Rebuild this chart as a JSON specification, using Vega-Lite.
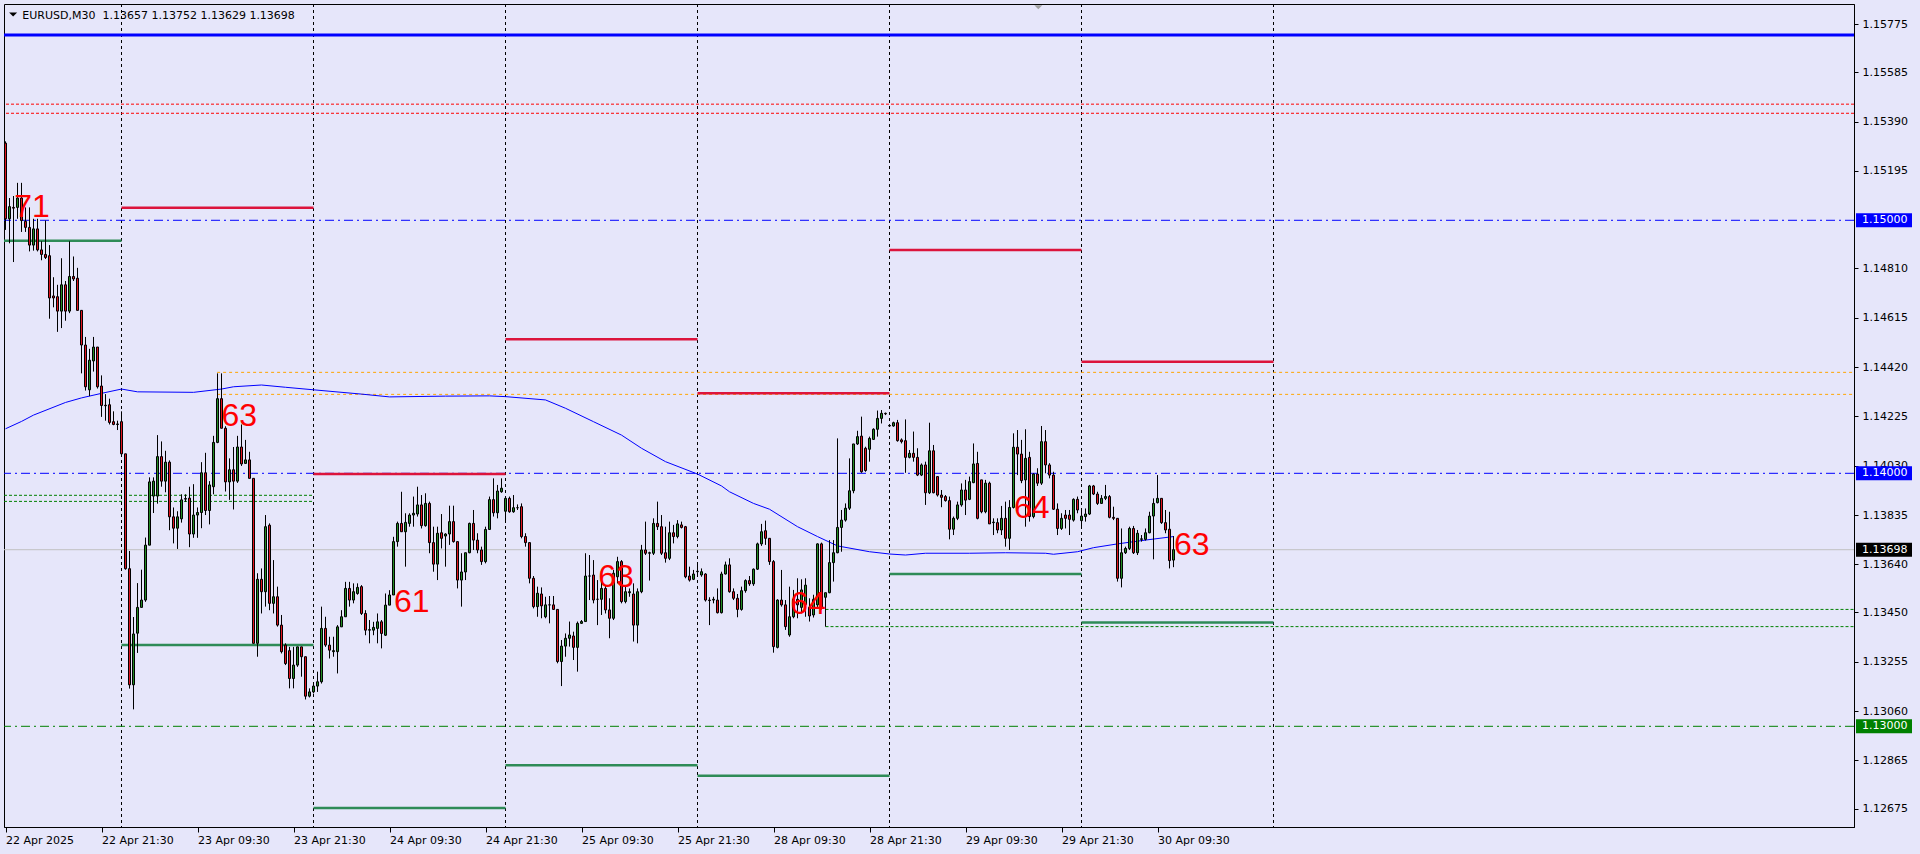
{
  "$schema": "https://vega.github.io/schema/vega-lite/v6.json",
  "width": 1850,
  "height": 823,
  "autosize": {"type": "none"},
  "padding": {"left": 4, "top": 4, "right": 66, "bottom": 27},
  "background": "#E6E6FA",
  "config": {
    "view": {"stroke": "#000000", "strokeWidth": 1, "fill": "#E6E6FA"},
    "axis": {"labelFont": "DejaVu Sans", "labelFontSize": 11, "labelColor": "#000000", "domainColor": "#000000", "tickColor": "#000000", "grid": false, "title": null}
  },
  "datasets": {
    "candles": [
      {"i":0,"o":1.15305,"h":1.15312,"l":1.14962,"c":1.15006},
      {"i":1,"o":1.15006,"h":1.15088,"l":1.14909,"c":1.15054},
      {"i":2,"o":1.15051,"h":1.15096,"l":1.14835,"c":1.15048},
      {"i":3,"o":1.15051,"h":1.15148,"l":1.15006,"c":1.15088},
      {"i":4,"o":1.15088,"h":1.15148,"l":1.14954,"c":1.14999},
      {"i":5,"o":1.14996,"h":1.15051,"l":1.14954,"c":1.14972},
      {"i":6,"o":1.14972,"h":1.15051,"l":1.14877,"c":1.14902},
      {"i":7,"o":1.14902,"h":1.15006,"l":1.14880,"c":1.14966},
      {"i":8,"o":1.14966,"h":1.15006,"l":1.14877,"c":1.14883},
      {"i":9,"o":1.14883,"h":1.14917,"l":1.14842,"c":1.14865},
      {"i":10,"o":1.14865,"h":1.14999,"l":1.14847,"c":1.14853},
      {"i":11,"o":1.14860,"h":1.14902,"l":1.14611,"c":1.14693},
      {"i":12,"o":1.14701,"h":1.14775,"l":1.14656,"c":1.14693},
      {"i":13,"o":1.14698,"h":1.14745,"l":1.14559,"c":1.14641},
      {"i":14,"o":1.14641,"h":1.14850,"l":1.14574,"c":1.14745},
      {"i":15,"o":1.14745,"h":1.14760,"l":1.14603,"c":1.14641},
      {"i":16,"o":1.14641,"h":1.14917,"l":1.14633,"c":1.14778},
      {"i":17,"o":1.14778,"h":1.14857,"l":1.14760,"c":1.14768},
      {"i":18,"o":1.14771,"h":1.14812,"l":1.14644,"c":1.14644},
      {"i":19,"o":1.14644,"h":1.14644,"l":1.14395,"c":1.14507},
      {"i":20,"o":1.14507,"h":1.14539,"l":1.14327,"c":1.14342},
      {"i":21,"o":1.14330,"h":1.14492,"l":1.14305,"c":1.14447},
      {"i":22,"o":1.14444,"h":1.14539,"l":1.14402,"c":1.14499},
      {"i":23,"o":1.14499,"h":1.14499,"l":1.14335,"c":1.14342},
      {"i":24,"o":1.14345,"h":1.14387,"l":1.14223,"c":1.14268},
      {"i":25,"o":1.14269,"h":1.14313,"l":1.14208,"c":1.14267},
      {"i":26,"o":1.14271,"h":1.14295,"l":1.14193,"c":1.14201},
      {"i":27,"o":1.14204,"h":1.14245,"l":1.14190,"c":1.14193},
      {"i":28,"o":1.14193,"h":1.14208,"l":1.14171,"c":1.14195},
      {"i":29,"o":1.14204,"h":1.14245,"l":1.14074,"c":1.14077},
      {"i":30,"o":1.14077,"h":1.14077,"l":1.13619,"c":1.13623},
      {"i":31,"o":1.13623,"h":1.13693,"l":1.13149,"c":1.13164},
      {"i":32,"o":1.13164,"h":1.13432,"l":1.13067,"c":1.13365},
      {"i":33,"o":1.13368,"h":1.13566,"l":1.13290,"c":1.13470},
      {"i":34,"o":1.13470,"h":1.13619,"l":1.13470,"c":1.13499},
      {"i":35,"o":1.13499,"h":1.13746,"l":1.13492,"c":1.13716},
      {"i":36,"o":1.13716,"h":1.13984,"l":1.13716,"c":1.13966},
      {"i":37,"o":1.13910,"h":1.13984,"l":1.13843,"c":1.13969},
      {"i":38,"o":1.13910,"h":1.14151,"l":1.13880,"c":1.14066},
      {"i":39,"o":1.14066,"h":1.14126,"l":1.13947,"c":1.13969},
      {"i":40,"o":1.13969,"h":1.14089,"l":1.13925,"c":1.14044},
      {"i":41,"o":1.14044,"h":1.14051,"l":1.13775,"c":1.13828},
      {"i":42,"o":1.13828,"h":1.13865,"l":1.13723,"c":1.13783},
      {"i":43,"o":1.13783,"h":1.13850,"l":1.13701,"c":1.13828},
      {"i":44,"o":1.13820,"h":1.13917,"l":1.13805,"c":1.13895},
      {"i":45,"o":1.13898,"h":1.13917,"l":1.13887,"c":1.13900},
      {"i":46,"o":1.13902,"h":1.13947,"l":1.13708,"c":1.13760},
      {"i":47,"o":1.13760,"h":1.13957,"l":1.13745,"c":1.13835},
      {"i":48,"o":1.13835,"h":1.13865,"l":1.13745,"c":1.13845},
      {"i":49,"o":1.13845,"h":1.14044,"l":1.13783,"c":1.14002},
      {"i":50,"o":1.14002,"h":1.14081,"l":1.13835,"c":1.13853},
      {"i":51,"o":1.13853,"h":1.13969,"l":1.13798,"c":1.13954},
      {"i":52,"o":1.13947,"h":1.14148,"l":1.13917,"c":1.14122},
      {"i":53,"o":1.14122,"h":1.14395,"l":1.14119,"c":1.14295},
      {"i":54,"o":1.14295,"h":1.14395,"l":1.14178,"c":1.14178},
      {"i":55,"o":1.14178,"h":1.14186,"l":1.13928,"c":1.13966},
      {"i":56,"o":1.13966,"h":1.14059,"l":1.13895,"c":1.14014},
      {"i":57,"o":1.14014,"h":1.14104,"l":1.13857,"c":1.13969},
      {"i":58,"o":1.13969,"h":1.14148,"l":1.13962,"c":1.14104},
      {"i":59,"o":1.14104,"h":1.14193,"l":1.14029,"c":1.14037},
      {"i":60,"o":1.14039,"h":1.14132,"l":1.14039,"c":1.14053},
      {"i":61,"o":1.14053,"h":1.14085,"l":1.13980,"c":1.13980},
      {"i":62,"o":1.13980,"h":1.13980,"l":1.13328,"c":1.13328},
      {"i":63,"o":1.13328,"h":1.13605,"l":1.13275,"c":1.13581},
      {"i":64,"o":1.13581,"h":1.13624,"l":1.13446,"c":1.13532},
      {"i":65,"o":1.13532,"h":1.13835,"l":1.13473,"c":1.13789},
      {"i":66,"o":1.13795,"h":1.13802,"l":1.13459,"c":1.13486},
      {"i":67,"o":1.13486,"h":1.13657,"l":1.13446,"c":1.13512},
      {"i":68,"o":1.13512,"h":1.13552,"l":1.13394,"c":1.13400},
      {"i":69,"o":1.13400,"h":1.13440,"l":1.13288,"c":1.13295},
      {"i":70,"o":1.13321,"h":1.13328,"l":1.13242,"c":1.13248},
      {"i":71,"o":1.13299,"h":1.13314,"l":1.13150,"c":1.13189},
      {"i":72,"o":1.13189,"h":1.13314,"l":1.13150,"c":1.13242},
      {"i":73,"o":1.13242,"h":1.13314,"l":1.13235,"c":1.13314},
      {"i":74,"o":1.13314,"h":1.13314,"l":1.13196,"c":1.13275},
      {"i":75,"o":1.13275,"h":1.13275,"l":1.13106,"c":1.13119},
      {"i":76,"o":1.13119,"h":1.13150,"l":1.13114,"c":1.13136},
      {"i":77,"o":1.13136,"h":1.13172,"l":1.13130,"c":1.13159},
      {"i":78,"o":1.13159,"h":1.13216,"l":1.13136,"c":1.13176},
      {"i":79,"o":1.13176,"h":1.13473,"l":1.13169,"c":1.13387},
      {"i":80,"o":1.13387,"h":1.13433,"l":1.13314,"c":1.13321},
      {"i":81,"o":1.13321,"h":1.13354,"l":1.13268,"c":1.13301},
      {"i":82,"o":1.13295,"h":1.13354,"l":1.13275,"c":1.13299},
      {"i":83,"o":1.13295,"h":1.13400,"l":1.13209,"c":1.13393},
      {"i":84,"o":1.13393,"h":1.13459,"l":1.13393,"c":1.13433},
      {"i":85,"o":1.13433,"h":1.13571,"l":1.13433,"c":1.13545},
      {"i":86,"o":1.13545,"h":1.13571,"l":1.13473,"c":1.13499},
      {"i":87,"o":1.13499,"h":1.13565,"l":1.13486,"c":1.13532},
      {"i":88,"o":1.13525,"h":1.13565,"l":1.13520,"c":1.13549},
      {"i":89,"o":1.13552,"h":1.13558,"l":1.13440,"c":1.13446},
      {"i":90,"o":1.13446,"h":1.13459,"l":1.13360,"c":1.13380},
      {"i":91,"o":1.13380,"h":1.13420,"l":1.13328,"c":1.13382},
      {"i":92,"o":1.13380,"h":1.13413,"l":1.13360,"c":1.13391},
      {"i":93,"o":1.13387,"h":1.13446,"l":1.13328,"c":1.13413},
      {"i":94,"o":1.13413,"h":1.13420,"l":1.13308,"c":1.13367},
      {"i":95,"o":1.13360,"h":1.13525,"l":1.13357,"c":1.13479},
      {"i":96,"o":1.13479,"h":1.13538,"l":1.13479,"c":1.13519},
      {"i":97,"o":1.13519,"h":1.13749,"l":1.13519,"c":1.13730},
      {"i":98,"o":1.13730,"h":1.13809,"l":1.13710,"c":1.13802},
      {"i":99,"o":1.13802,"h":1.13927,"l":1.13769,"c":1.13769},
      {"i":100,"o":1.13769,"h":1.13842,"l":1.13631,"c":1.13806},
      {"i":101,"o":1.13802,"h":1.13842,"l":1.13789,"c":1.13835},
      {"i":102,"o":1.13835,"h":1.13908,"l":1.13789,"c":1.13842},
      {"i":103,"o":1.13839,"h":1.13947,"l":1.13829,"c":1.13875},
      {"i":104,"o":1.13875,"h":1.13914,"l":1.13782,"c":1.13793},
      {"i":105,"o":1.13793,"h":1.13921,"l":1.13789,"c":1.13881},
      {"i":106,"o":1.13881,"h":1.13888,"l":1.13684,"c":1.13726},
      {"i":107,"o":1.13726,"h":1.13789,"l":1.13611,"c":1.13641},
      {"i":108,"o":1.13641,"h":1.13789,"l":1.13578,"c":1.13763},
      {"i":109,"o":1.13765,"h":1.13839,"l":1.13703,"c":1.13743},
      {"i":110,"o":1.13752,"h":1.13763,"l":1.13631,"c":1.13760},
      {"i":111,"o":1.13760,"h":1.13872,"l":1.13717,"c":1.13809},
      {"i":112,"o":1.13809,"h":1.13872,"l":1.13726,"c":1.13730},
      {"i":113,"o":1.13730,"h":1.13730,"l":1.13545,"c":1.13578},
      {"i":114,"o":1.13578,"h":1.13684,"l":1.13473,"c":1.13610},
      {"i":115,"o":1.13610,"h":1.13686,"l":1.13578,"c":1.13686},
      {"i":116,"o":1.13686,"h":1.13805,"l":1.13684,"c":1.13802},
      {"i":117,"o":1.13802,"h":1.13855,"l":1.13697,"c":1.13736},
      {"i":118,"o":1.13736,"h":1.13763,"l":1.13684,"c":1.13697},
      {"i":119,"o":1.13697,"h":1.13710,"l":1.13638,"c":1.13651},
      {"i":120,"o":1.13651,"h":1.13789,"l":1.13644,"c":1.13778},
      {"i":121,"o":1.13778,"h":1.13908,"l":1.13778,"c":1.13896},
      {"i":122,"o":1.13896,"h":1.13980,"l":1.13829,"c":1.13844},
      {"i":123,"o":1.13844,"h":1.13954,"l":1.13822,"c":1.13930},
      {"i":124,"o":1.13927,"h":1.13980,"l":1.13923,"c":1.13941},
      {"i":125,"o":1.13850,"h":1.13910,"l":1.13809,"c":1.13901},
      {"i":126,"o":1.13901,"h":1.13908,"l":1.13844,"c":1.13848},
      {"i":127,"o":1.13848,"h":1.13914,"l":1.13844,"c":1.13864},
      {"i":128,"o":1.13864,"h":1.13877,"l":1.13855,"c":1.13864},
      {"i":129,"o":1.13868,"h":1.13881,"l":1.13743,"c":1.13750},
      {"i":130,"o":1.13750,"h":1.13763,"l":1.13710,"c":1.13726},
      {"i":131,"o":1.13726,"h":1.13726,"l":1.13565,"c":1.13585},
      {"i":132,"o":1.13585,"h":1.13594,"l":1.13466,"c":1.13473},
      {"i":133,"o":1.13473,"h":1.13552,"l":1.13433,"c":1.13526},
      {"i":134,"o":1.13523,"h":1.13549,"l":1.13427,"c":1.13476},
      {"i":135,"o":1.13433,"h":1.13512,"l":1.13427,"c":1.13480},
      {"i":136,"o":1.13480,"h":1.13515,"l":1.13407,"c":1.13480},
      {"i":137,"o":1.13480,"h":1.13515,"l":1.13460,"c":1.13462},
      {"i":138,"o":1.13462,"h":1.13462,"l":1.13249,"c":1.13256},
      {"i":139,"o":1.13256,"h":1.13341,"l":1.13159,"c":1.13317},
      {"i":140,"o":1.13317,"h":1.13367,"l":1.13275,"c":1.13348},
      {"i":141,"o":1.13348,"h":1.13414,"l":1.13315,"c":1.13361},
      {"i":142,"o":1.13357,"h":1.13374,"l":1.13262,"c":1.13312},
      {"i":143,"o":1.13312,"h":1.13414,"l":1.13216,"c":1.13407},
      {"i":144,"o":1.13407,"h":1.13420,"l":1.13405,"c":1.13414},
      {"i":145,"o":1.13414,"h":1.13684,"l":1.13414,"c":1.13594},
      {"i":146,"o":1.13594,"h":1.13677,"l":1.13499,"c":1.13594},
      {"i":147,"o":1.13598,"h":1.13657,"l":1.13486,"c":1.13499},
      {"i":148,"o":1.13502,"h":1.13578,"l":1.13400,"c":1.13502},
      {"i":149,"o":1.13502,"h":1.13618,"l":1.13440,"c":1.13545},
      {"i":150,"o":1.13545,"h":1.13558,"l":1.13446,"c":1.13460},
      {"i":151,"o":1.13460,"h":1.13506,"l":1.13348,"c":1.13427},
      {"i":152,"o":1.13427,"h":1.13618,"l":1.13420,"c":1.13605},
      {"i":153,"o":1.13591,"h":1.13670,"l":1.13565,"c":1.13651},
      {"i":154,"o":1.13651,"h":1.13657,"l":1.13486,"c":1.13493},
      {"i":155,"o":1.13493,"h":1.13552,"l":1.13486,"c":1.13532},
      {"i":156,"o":1.13528,"h":1.13545,"l":1.13512,"c":1.13532},
      {"i":157,"o":1.13523,"h":1.13565,"l":1.13335,"c":1.13400},
      {"i":158,"o":1.13400,"h":1.13545,"l":1.13328,"c":1.13532},
      {"i":159,"o":1.13532,"h":1.13717,"l":1.13526,"c":1.13697},
      {"i":160,"o":1.13697,"h":1.13809,"l":1.13677,"c":1.13684},
      {"i":161,"o":1.13684,"h":1.13690,"l":1.13576,"c":1.13686},
      {"i":162,"o":1.13684,"h":1.13822,"l":1.13677,"c":1.13802},
      {"i":163,"o":1.13802,"h":1.13888,"l":1.13776,"c":1.13789},
      {"i":164,"o":1.13789,"h":1.13835,"l":1.13677,"c":1.13684},
      {"i":165,"o":1.13686,"h":1.13789,"l":1.13647,"c":1.13664},
      {"i":166,"o":1.13664,"h":1.13809,"l":1.13657,"c":1.13765},
      {"i":167,"o":1.13765,"h":1.13796,"l":1.13723,"c":1.13750},
      {"i":168,"o":1.13750,"h":1.13815,"l":1.13743,"c":1.13800},
      {"i":169,"o":1.13796,"h":1.13809,"l":1.13782,"c":1.13786},
      {"i":170,"o":1.13789,"h":1.13792,"l":1.13585,"c":1.13591},
      {"i":171,"o":1.13594,"h":1.13631,"l":1.13572,"c":1.13578},
      {"i":172,"o":1.13581,"h":1.13618,"l":1.13578,"c":1.13602},
      {"i":173,"o":1.13611,"h":1.13647,"l":1.13598,"c":1.13613},
      {"i":174,"o":1.13598,"h":1.13624,"l":1.13591,"c":1.13611},
      {"i":175,"o":1.13602,"h":1.13605,"l":1.13493,"c":1.13499},
      {"i":176,"o":1.13499,"h":1.13510,"l":1.13400,"c":1.13497},
      {"i":177,"o":1.13499,"h":1.13512,"l":1.13486,"c":1.13502},
      {"i":178,"o":1.13499,"h":1.13545,"l":1.13446,"c":1.13449},
      {"i":179,"o":1.13449,"h":1.13611,"l":1.13446,"c":1.13602},
      {"i":180,"o":1.13602,"h":1.13651,"l":1.13600,"c":1.13638},
      {"i":181,"o":1.13638,"h":1.13664,"l":1.13528,"c":1.13532},
      {"i":182,"o":1.13532,"h":1.13545,"l":1.13499,"c":1.13506},
      {"i":183,"o":1.13506,"h":1.13523,"l":1.13431,"c":1.13462},
      {"i":184,"o":1.13462,"h":1.13552,"l":1.13457,"c":1.13536},
      {"i":185,"o":1.13536,"h":1.13581,"l":1.13528,"c":1.13576},
      {"i":186,"o":1.13576,"h":1.13594,"l":1.13555,"c":1.13563},
      {"i":187,"o":1.13563,"h":1.13624,"l":1.13555,"c":1.13621},
      {"i":188,"o":1.13621,"h":1.13726,"l":1.13618,"c":1.13721},
      {"i":189,"o":1.13721,"h":1.13800,"l":1.13713,"c":1.13769},
      {"i":190,"o":1.13773,"h":1.13813,"l":1.13717,"c":1.13743},
      {"i":191,"o":1.13743,"h":1.13743,"l":1.13638,"c":1.13651},
      {"i":192,"o":1.13651,"h":1.13657,"l":1.13291,"c":1.13315},
      {"i":193,"o":1.13312,"h":1.13502,"l":1.13308,"c":1.13499},
      {"i":194,"o":1.13499,"h":1.13618,"l":1.13473,"c":1.13480},
      {"i":195,"o":1.13480,"h":1.13499,"l":1.13381,"c":1.13394},
      {"i":196,"o":1.13361,"h":1.13552,"l":1.13354,"c":1.13433},
      {"i":197,"o":1.13433,"h":1.13539,"l":1.13427,"c":1.13502},
      {"i":198,"o":1.13502,"h":1.13585,"l":1.13427,"c":1.13480},
      {"i":199,"o":1.13470,"h":1.13581,"l":1.13446,"c":1.13539},
      {"i":200,"o":1.13480,"h":1.13585,"l":1.13433,"c":1.13558},
      {"i":201,"o":1.13470,"h":1.13506,"l":1.13414,"c":1.13436},
      {"i":202,"o":1.13440,"h":1.13520,"l":1.13430,"c":1.13502},
      {"i":203,"o":1.13480,"h":1.13723,"l":1.13466,"c":1.13721},
      {"i":204,"o":1.13721,"h":1.13726,"l":1.13460,"c":1.13470},
      {"i":205,"o":1.13510,"h":1.13528,"l":1.13394,"c":1.13528},
      {"i":206,"o":1.13528,"h":1.13736,"l":1.13526,"c":1.13647},
      {"i":207,"o":1.13647,"h":1.13736,"l":1.13572,"c":1.13686},
      {"i":208,"o":1.13686,"h":1.14138,"l":1.13684,"c":1.13786},
      {"i":209,"o":1.13786,"h":1.13855,"l":1.13690,"c":1.13815},
      {"i":210,"o":1.13815,"h":1.13881,"l":1.13809,"c":1.13862},
      {"i":211,"o":1.13862,"h":1.14059,"l":1.13855,"c":1.13931},
      {"i":212,"o":1.13931,"h":1.14116,"l":1.13921,"c":1.14116},
      {"i":213,"o":1.14116,"h":1.14168,"l":1.14112,"c":1.14145},
      {"i":214,"o":1.14147,"h":1.14224,"l":1.14002,"c":1.14006},
      {"i":215,"o":1.14099,"h":1.14105,"l":1.14006,"c":1.14011},
      {"i":216,"o":1.14095,"h":1.14145,"l":1.14046,"c":1.14138},
      {"i":217,"o":1.14134,"h":1.14178,"l":1.14132,"c":1.14174},
      {"i":218,"o":1.14174,"h":1.14248,"l":1.14145,"c":1.14217},
      {"i":219,"o":1.14217,"h":1.14250,"l":1.14197,"c":1.14237},
      {"i":220,"o":1.14237,"h":1.14240,"l":1.14230,"c":1.14235},
      {"i":221,"o":1.14187,"h":1.14192,"l":1.14183,"c":1.14189},
      {"i":222,"o":1.14187,"h":1.14204,"l":1.14184,"c":1.14200},
      {"i":223,"o":1.14200,"h":1.14211,"l":1.14125,"c":1.14129},
      {"i":224,"o":1.14132,"h":1.14138,"l":1.14118,"c":1.14125},
      {"i":225,"o":1.14129,"h":1.14213,"l":1.14002,"c":1.14063},
      {"i":226,"o":1.14063,"h":1.14092,"l":1.14059,"c":1.14079},
      {"i":227,"o":1.14079,"h":1.14165,"l":1.14046,"c":1.14063},
      {"i":228,"o":1.14063,"h":1.14099,"l":1.13989,"c":1.13993},
      {"i":229,"o":1.13993,"h":1.14039,"l":1.13989,"c":1.14033},
      {"i":230,"o":1.14033,"h":1.14046,"l":1.13875,"c":1.13923},
      {"i":231,"o":1.13923,"h":1.14200,"l":1.13918,"c":1.14089},
      {"i":232,"o":1.14089,"h":1.14112,"l":1.13921,"c":1.13923},
      {"i":233,"o":1.13987,"h":1.13987,"l":1.13908,"c":1.13914},
      {"i":234,"o":1.13914,"h":1.13934,"l":1.13866,"c":1.13905},
      {"i":235,"o":1.13908,"h":1.13914,"l":1.13888,"c":1.13892},
      {"i":236,"o":1.13892,"h":1.13908,"l":1.13739,"c":1.13779},
      {"i":237,"o":1.13779,"h":1.13829,"l":1.13756,"c":1.13822},
      {"i":238,"o":1.13822,"h":1.13888,"l":1.13815,"c":1.13875},
      {"i":239,"o":1.13875,"h":1.13960,"l":1.13868,"c":1.13934},
      {"i":240,"o":1.13934,"h":1.13974,"l":1.13835,"c":1.13894},
      {"i":241,"o":1.13897,"h":1.13987,"l":1.13894,"c":1.13967},
      {"i":242,"o":1.13963,"h":1.14118,"l":1.13961,"c":1.14037},
      {"i":243,"o":1.14039,"h":1.14085,"l":1.13818,"c":1.13822},
      {"i":244,"o":1.13974,"h":1.13974,"l":1.13842,"c":1.13848},
      {"i":245,"o":1.13848,"h":1.13974,"l":1.13842,"c":1.13961},
      {"i":246,"o":1.13961,"h":1.13967,"l":1.13800,"c":1.13800},
      {"i":247,"o":1.13805,"h":1.13822,"l":1.13756,"c":1.13807},
      {"i":248,"o":1.13805,"h":1.13822,"l":1.13763,"c":1.13776},
      {"i":249,"o":1.13776,"h":1.13871,"l":1.13756,"c":1.13822},
      {"i":250,"o":1.13822,"h":1.13888,"l":1.13710,"c":1.13743},
      {"i":251,"o":1.13743,"h":1.13894,"l":1.13697,"c":1.13865},
      {"i":252,"o":1.13865,"h":1.14158,"l":1.13861,"c":1.14103},
      {"i":253,"o":1.14103,"h":1.14171,"l":1.13993,"c":1.14076},
      {"i":254,"o":1.14076,"h":1.14132,"l":1.13961,"c":1.13971},
      {"i":255,"o":1.13974,"h":1.14174,"l":1.13789,"c":1.14059},
      {"i":256,"o":1.14063,"h":1.14085,"l":1.13809,"c":1.13829},
      {"i":257,"o":1.13829,"h":1.14000,"l":1.13822,"c":1.13997},
      {"i":258,"o":1.13997,"h":1.14020,"l":1.13950,"c":1.13961},
      {"i":259,"o":1.13961,"h":1.14187,"l":1.13954,"c":1.14125},
      {"i":260,"o":1.14125,"h":1.14171,"l":1.14000,"c":1.14033},
      {"i":261,"o":1.14033,"h":1.14040,"l":1.13980,"c":1.13993},
      {"i":262,"o":1.13993,"h":1.14006,"l":1.13855,"c":1.13858},
      {"i":263,"o":1.13858,"h":1.13881,"l":1.13756,"c":1.13782},
      {"i":264,"o":1.13782,"h":1.13842,"l":1.13776,"c":1.13822},
      {"i":265,"o":1.13835,"h":1.13855,"l":1.13782,"c":1.13822},
      {"i":266,"o":1.13835,"h":1.13855,"l":1.13756,"c":1.13818},
      {"i":267,"o":1.13815,"h":1.13901,"l":1.13809,"c":1.13897},
      {"i":268,"o":1.13897,"h":1.13908,"l":1.13842,"c":1.13855},
      {"i":269,"o":1.13813,"h":1.13855,"l":1.13789,"c":1.13831},
      {"i":270,"o":1.13829,"h":1.13861,"l":1.13809,"c":1.13839},
      {"i":271,"o":1.13839,"h":1.13954,"l":1.13835,"c":1.13950},
      {"i":272,"o":1.13950,"h":1.13954,"l":1.13914,"c":1.13918},
      {"i":273,"o":1.13918,"h":1.13927,"l":1.13875,"c":1.13881},
      {"i":274,"o":1.13881,"h":1.13914,"l":1.13879,"c":1.13901},
      {"i":275,"o":1.13901,"h":1.13954,"l":1.13894,"c":1.13908},
      {"i":276,"o":1.13908,"h":1.13914,"l":1.13822,"c":1.13826},
      {"i":277,"o":1.13826,"h":1.13868,"l":1.13815,"c":1.13822},
      {"i":278,"o":1.13822,"h":1.13822,"l":1.13572,"c":1.13585},
      {"i":279,"o":1.13585,"h":1.13782,"l":1.13549,"c":1.13686},
      {"i":280,"o":1.13686,"h":1.13710,"l":1.13681,"c":1.13703},
      {"i":281,"o":1.13703,"h":1.13789,"l":1.13697,"c":1.13782},
      {"i":282,"o":1.13782,"h":1.13792,"l":1.13681,"c":1.13686},
      {"i":283,"o":1.13686,"h":1.13776,"l":1.13677,"c":1.13763},
      {"i":284,"o":1.13739,"h":1.13756,"l":1.13730,"c":1.13741},
      {"i":285,"o":1.13739,"h":1.13782,"l":1.13734,"c":1.13765},
      {"i":286,"o":1.13765,"h":1.13848,"l":1.13763,"c":1.13831},
      {"i":287,"o":1.13831,"h":1.13901,"l":1.13660,"c":1.13881},
      {"i":288,"o":1.13884,"h":1.13993,"l":1.13881,"c":1.13901},
      {"i":289,"o":1.13901,"h":1.13901,"l":1.13800,"c":1.13805},
      {"i":290,"o":1.13805,"h":1.13855,"l":1.13763,"c":1.13776},
      {"i":291,"o":1.13779,"h":1.13848,"l":1.13624,"c":1.13655},
      {"i":292,"o":1.13657,"h":1.13752,"l":1.13629,"c":1.13698}
    ],
    "ma": [
      {"i":0,"v":1.14176},{"i":4,"v":1.14205},{"i":7,"v":1.14230},{"i":15,"v":1.14280},
      {"i":19,"v":1.14298},{"i":24,"v":1.14316},{"i":29,"v":1.14333},{"i":33,"v":1.14322},
      {"i":47,"v":1.14320},{"i":54,"v":1.14333},{"i":57,"v":1.14342},{"i":64,"v":1.14349},
      {"i":70,"v":1.14340},{"i":77,"v":1.14330},{"i":89,"v":1.14313},{"i":96,"v":1.14302},
      {"i":110,"v":1.14305},{"i":121,"v":1.14306},{"i":125,"v":1.14303},{"i":135,"v":1.14290},
      {"i":140,"v":1.14257},{"i":147,"v":1.14204},{"i":154,"v":1.14151},{"i":159,"v":1.14099},
      {"i":165,"v":1.14046},{"i":173,"v":1.13997},{"i":179,"v":1.13950},{"i":181,"v":1.13927},
      {"i":187,"v":1.13881},{"i":191,"v":1.13858},{"i":198,"v":1.13789},{"i":203,"v":1.13750},
      {"i":208,"v":1.13713},{"i":216,"v":1.13690},{"i":221,"v":1.13681},{"i":225,"v":1.13677},
      {"i":230,"v":1.13684},{"i":241,"v":1.13684},{"i":250,"v":1.13686},{"i":260,"v":1.13684},
      {"i":262,"v":1.13680},{"i":268,"v":1.13690},{"i":272,"v":1.13706},{"i":278,"v":1.13721},
      {"i":285,"v":1.13736},{"i":292,"v":1.13750}
    ],
    "days": [{"i":29},{"i":77},{"i":125},{"i":173},{"i":221},{"i":269},{"i":317}],
    "levels": [
      {"kind":"key level","price":1.15732},
      {"kind":"upper zone","price":1.15459},
      {"kind":"upper zone","price":1.15423},
      {"kind":"round number","price":1.15},
      {"kind":"round number","price":1.14},
      {"kind":"round support","price":1.13},
      {"kind":"last price","price":1.13698}
    ],
    "segments": [
      {"kind":"swing high zone","price":1.14399,"from":52.9,"to":462.125},
      {"kind":"swing high zone","price":1.14312,"from":52.9,"to":462.125},
      {"kind":"support zone","price":1.13913,"from":-0.375,"to":77},
      {"kind":"support zone","price":1.13889,"from":-0.375,"to":77},
      {"kind":"support zone","price":1.13462,"from":205,"to":462.125},
      {"kind":"support zone","price":1.13394,"from":205,"to":462.125},
      {"kind":"day high","price":1.15050,"from":29,"to":77},
      {"kind":"day high","price":1.13997,"from":77,"to":125},
      {"kind":"day high","price":1.14530,"from":125,"to":173},
      {"kind":"day high","price":1.14316,"from":173,"to":221},
      {"kind":"day high","price":1.14883,"from":221,"to":269},
      {"kind":"day high","price":1.14441,"from":269,"to":317},
      {"kind":"day low","price":1.14919,"from":-0.375,"to":29},
      {"kind":"day low","price":1.13321,"from":29,"to":77},
      {"kind":"day low","price":1.12677,"from":77,"to":125},
      {"kind":"day low","price":1.12846,"from":125,"to":173},
      {"kind":"day low","price":1.12805,"from":173,"to":221},
      {"kind":"day low","price":1.13602,"from":221,"to":269},
      {"kind":"day low","price":1.13410,"from":269,"to":317}
    ],
    "counts": [
      {"i":2.2,"price":1.15014,"label":"71"},
      {"i":54.0,"price":1.14188,"label":"63"},
      {"i":97.1,"price":1.13453,"label":"61"},
      {"i":148.2,"price":1.13549,"label":"63"},
      {"i":196.2,"price":1.13444,"label":"64"},
      {"i":252.1,"price":1.13822,"label":"64"},
      {"i":292.1,"price":1.13677,"label":"63"}
    ],
    "tags": [
      {"kind":"round number","price":1.15,"label":"1.15000"},
      {"kind":"round number","price":1.14,"label":"1.14000"},
      {"kind":"last price","price":1.13698,"label":"1.13698"},
      {"kind":"round support","price":1.13,"label":"1.13000"}
    ],
    "header": [
      {"i":4.2,"price":1.15796,"text":"EURUSD,M30\u00a0\u00a01.13657 1.13752 1.13629 1.13698"}
    ],
    "arrows": [
      {"name":"menu","i":1.9,"price":1.15813},
      {"name":"shift","i":258.2,"price":1.15842}
    ]
  },
  "layer": [
    {
      "data": {"name": "days"},
      "mark": {"type": "rule", "color": "#000000", "strokeWidth": 1, "strokeDash": [3, 3]},
      "encoding": {
        "x": {"field": "i", "type": "quantitative", "scale": {"domain": [-0.375, 462.125], "nice": false, "zero": false, "padding": 0},
          "axis": {"values": [0,24,48,72,96,120,144,168,192,216,240,264,288], "labelExpr": "['22 Apr 2025','22 Apr 21:30','23 Apr 09:30','23 Apr 21:30','24 Apr 09:30','24 Apr 21:30','25 Apr 09:30','25 Apr 21:30','28 Apr 09:30','28 Apr 21:30','29 Apr 09:30','29 Apr 21:30','30 Apr 09:30'][round(datum.value/24)]", "labelAlign": "left", "labelPadding": 2, "tickSize": 5, "labelFlush": false, "labelOverlap": false, "labelBound": false, "domain": true}}
      }
    },
    {
      "data": {"name": "levels"},
      "transform": [{"filter": "datum.kind == 'last price'"}],
      "mark": {"type": "rule", "color": "#C0C0C0", "strokeWidth": 1},
      "encoding": {
        "y": {"field": "price", "type": "quantitative", "scale": {"domain": [1.12602, 1.158549], "nice": false, "zero": false, "padding": 0},
          "axis": {"orient": "right", "values": [1.15775,1.15585,1.1539,1.15195,1.1481,1.14615,1.1442,1.14225,1.1403,1.13835,1.1364,1.1345,1.13255,1.1306,1.12865,1.12675], "format": ".5f", "tickSize": 4, "labelPadding": 4, "labelAlign": "left", "labelOverlap": false, "labelBound": false, "labelFlush": false}}
      }
    },
    {
      "data": {"name": "levels"},
      "transform": [{"filter": "datum.kind == 'key level'"}],
      "mark": {"type": "rule", "color": "#0000FF", "strokeWidth": 3},
      "encoding": {"y": {"field": "price", "type": "quantitative"}}
    },
    {
      "data": {"name": "levels"},
      "transform": [{"filter": "datum.kind == 'upper zone'"}],
      "mark": {"type": "rule", "color": "#FF0000", "strokeWidth": 1, "strokeDash": [3, 2]},
      "encoding": {"y": {"field": "price", "type": "quantitative"}}
    },
    {
      "data": {"name": "levels"},
      "transform": [{"filter": "datum.kind == 'round number'"}],
      "mark": {"type": "rule", "color": "#0000FF", "strokeWidth": 1, "strokeDash": [9, 4, 2, 4]},
      "encoding": {"y": {"field": "price", "type": "quantitative"}}
    },
    {
      "data": {"name": "levels"},
      "transform": [{"filter": "datum.kind == 'round support'"}],
      "mark": {"type": "rule", "color": "#008000", "strokeWidth": 1, "strokeDash": [9, 4, 2, 4]},
      "encoding": {"y": {"field": "price", "type": "quantitative"}}
    },
    {
      "data": {"name": "segments"},
      "transform": [{"filter": "datum.kind == 'swing high zone'"}],
      "mark": {"type": "rule", "color": "#FFA500", "strokeWidth": 1, "strokeDash": [3, 3]},
      "encoding": {"x": {"field": "from", "type": "quantitative"}, "x2": {"field": "to"}, "y": {"field": "price", "type": "quantitative"}}
    },
    {
      "data": {"name": "segments"},
      "transform": [{"filter": "datum.kind == 'support zone'"}],
      "mark": {"type": "rule", "color": "#008000", "strokeWidth": 1, "strokeDash": [3, 2]},
      "encoding": {"x": {"field": "from", "type": "quantitative"}, "x2": {"field": "to"}, "y": {"field": "price", "type": "quantitative"}}
    },
    {
      "data": {"name": "segments"},
      "transform": [{"filter": "datum.kind == 'day high'"}],
      "mark": {"type": "rule", "color": "#DC143C", "strokeWidth": 2.5},
      "encoding": {"x": {"field": "from", "type": "quantitative"}, "x2": {"field": "to"}, "y": {"field": "price", "type": "quantitative"}}
    },
    {
      "data": {"name": "segments"},
      "transform": [{"filter": "datum.kind == 'day low'"}],
      "mark": {"type": "rule", "color": "#2E8B57", "strokeWidth": 2.5},
      "encoding": {"x": {"field": "from", "type": "quantitative"}, "x2": {"field": "to"}, "y": {"field": "price", "type": "quantitative"}}
    },
    {
      "data": {"name": "ma"},
      "mark": {"type": "line", "color": "#0000FF", "strokeWidth": 1},
      "encoding": {"x": {"field": "i", "type": "quantitative"}, "y": {"field": "v", "type": "quantitative"}}
    },
    {
      "data": {"name": "candles"},
      "mark": {"type": "rule", "color": "#000000", "strokeWidth": 1},
      "encoding": {"x": {"field": "i", "type": "quantitative"}, "y": {"field": "l", "type": "quantitative"}, "y2": {"field": "h"}}
    },
    {
      "data": {"name": "candles"},
      "mark": {"type": "bar", "size": 2, "stroke": "#000000", "strokeWidth": 1, "opacity": 1},
      "encoding": {
        "x": {"field": "i", "type": "quantitative"},
        "y": {"field": "o", "type": "quantitative"},
        "y2": {"field": "c"},
        "color": {"condition": {"test": "datum.c >= datum.o", "value": "#228B22"}, "value": "#E0141E"}
      }
    },
    {
      "data": {"name": "counts"},
      "mark": {"type": "text", "font": "Liberation Sans", "fontSize": 32, "color": "#FF0000", "align": "left", "baseline": "alphabetic"},
      "encoding": {"x": {"field": "i", "type": "quantitative"}, "y": {"field": "price", "type": "quantitative"}, "text": {"field": "label"}}
    },
    {
      "data": {"name": "tags"},
      "mark": {"type": "tick", "orient": "horizontal", "size": 56, "thickness": 14, "opacity": 1},
      "encoding": {
        "x": {"datum": 469.625, "type": "quantitative"},
        "y": {"field": "price", "type": "quantitative"},
        "color": {"field": "kind", "type": "nominal", "scale": {"domain": ["round number", "last price", "round support"], "range": ["#0000FF", "#000000", "#008000"]}, "legend": null}
      }
    },
    {
      "data": {"name": "tags"},
      "mark": {"type": "text", "font": "DejaVu Sans", "fontSize": 11, "color": "#FFFFFF", "align": "left", "baseline": "middle"},
      "encoding": {"x": {"datum": 464.125, "type": "quantitative"}, "y": {"field": "price", "type": "quantitative"}, "text": {"field": "label"}}
    },
    {
      "data": {"name": "header"},
      "mark": {"type": "text", "font": "DejaVu Sans", "fontSize": 11, "color": "#000000", "align": "left", "baseline": "alphabetic"},
      "encoding": {"x": {"field": "i", "type": "quantitative"}, "y": {"field": "price", "type": "quantitative"}, "text": {"field": "text"}}
    },
    {
      "data": {"name": "arrows"},
      "mark": {"type": "point", "shape": "M-1,-0.5L1,-0.5L0,0.5Z", "filled": true, "size": 64, "opacity": 1, "strokeWidth": 0},
      "encoding": {
        "x": {"field": "i", "type": "quantitative"},
        "y": {"field": "price", "type": "quantitative"},
        "color": {"condition": {"test": "datum.name == 'menu'", "value": "#000000"}, "value": "#A0A0A0"}
      }
    }
  ]
}
